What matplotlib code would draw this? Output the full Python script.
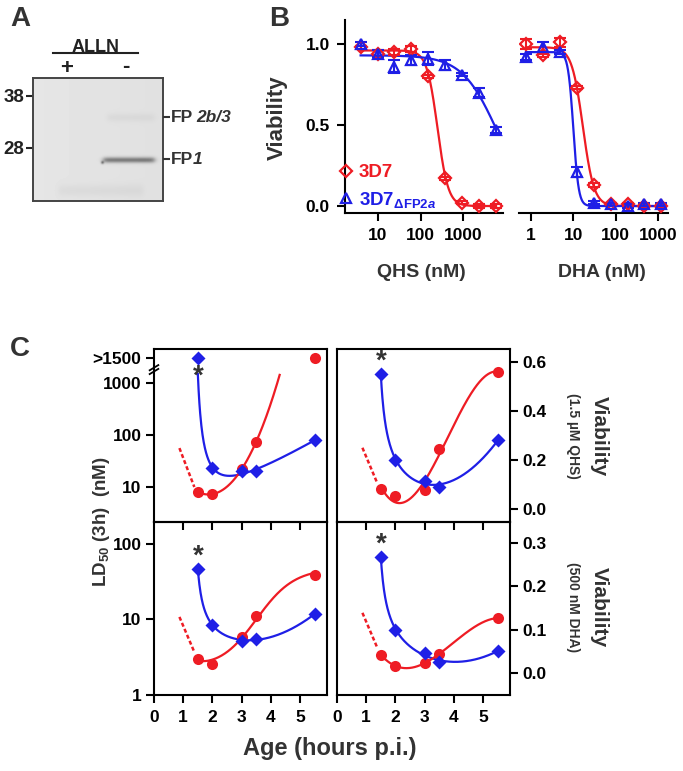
import numpy as np
import matplotlib
matplotlib.use("Agg")
import matplotlib.pyplot as plt
from matplotlib.ticker import NullLocator, FixedLocator
from matplotlib.lines import Line2D

plt.rcParams['font.family'] = ['Liberation Sans', 'DejaVu Sans']
plt.rcParams['font.weight'] = 'bold'
plt.rcParams['mathtext.fontset'] = 'custom'
plt.rcParams['mathtext.rm'] = 'Liberation Sans:bold'
plt.rcParams['mathtext.it'] = 'Liberation Sans:italic:bold'
plt.rcParams['mathtext.bf'] = 'Liberation Sans:bold'

W, H = 683, 771
RED = '#ee1c24'
BLUE = '#1f1fe6'
DARK = '#333333'

# ---------------- data ----------------
# Panel A (western blot)
mw_labels = ['38', '28']
band_prefix = ['FP', 'FP']
band_suffix = ['2b/3', '1']
lane_labels = ['+', '-']

# Panel B dose response
qhs_conc = [3.9, 9.8, 24.4, 61, 153, 381, 954, 2384, 5960]
qhs_3d7 = [0.98, 0.94, 0.95, 0.97, 0.80, 0.17, 0.02, 0.00, 0.00]
qhs_3d7_err = [0.01, 0.02, 0.02, 0.02, 0.01, 0.01, 0.01, 0.01, 0.01]
qhs_ko = [1.00, 0.94, 0.86, 0.90, 0.91, 0.87, 0.81, 0.70, 0.47]
qhs_ko_err = [0.01, 0.02, 0.04, 0.03, 0.04, 0.03, 0.01, 0.03, 0.02]

dha_conc = [0.76, 1.9, 4.8, 12, 30, 76, 191, 477, 1192]
dha_3d7 = [1.00, 0.93, 1.01, 0.73, 0.13, 0.01, 0.01, 0.00, 0.00]
dha_3d7_err = [0.03, 0.01, 0.03, 0.01, 0.01, 0.01, 0.01, 0.01, 0.01]
dha_ko = [0.92, 0.98, 0.95, 0.21, 0.02, 0.01, 0.00, 0.01, 0.01]
dha_ko_err = [0.02, 0.03, 0.01, 0.03, 0.01, 0.01, 0.01, 0.01, 0.01]

# Panel C  (age in hours post invasion)
age = [1.5, 2.0, 3.0, 3.5, 5.5]
GT_LABEL = '>1500'
GT_FIT = 1500.0      # value used for ">1500" in the fitted curve
GT_POS = 3000.0      # where the ">1500" tick sits on the broken log axis
ld50_qhs_ko = [GT_POS, 23, 20, 20, 80]
ld50_qhs_ko_fit = [GT_FIT, 23, 20, 20, 80]
ld50_qhs_3d7 = [8.0, 7.3, 22, 75, GT_POS]
via_qhs_ko = [0.55, 0.20, 0.115, 0.09, 0.28]
via_qhs_3d7 = [0.08, 0.053, 0.078, 0.245, 0.56]
ld50_dha_ko = [47, 8.5, 5.2, 5.5, 11.8]
ld50_dha_3d7 = [3.0, 2.6, 5.9, 11.2, 39]
via_dha_ko = [0.268, 0.10, 0.046, 0.025, 0.051]
via_dha_3d7 = [0.042, 0.016, 0.023, 0.044, 0.127]
# dashed red extrapolation segments (age, value)
dash_age = [0.87, 1.38]
dash_ld50_qhs = [56, 10]
dash_via_qhs = [0.25, 0.105]
dash_ld50_dha = [10.8, 3.7]
dash_via_dha = [0.139, 0.058]


def rect(x0, y0, x1, y1):
    return [x0 / W, 1 - y1 / H, (x1 - x0) / W, (y1 - y0) / H]


def ftext(x, y, s, **kw):
    return fig.text(x / W, 1 - y / H, s, **kw)


fig = plt.figure(figsize=(W / 100, H / 100), dpi=100)

# ---------------- Panel A ----------------
axA = fig.add_axes(rect(33, 78, 163, 201))
bw, bh = 130, 123
yy, xx = np.mgrid[0:bh, 0:bw]
img = np.full((bh, bw), 0.90) - 0.02 * (xx / bw)
bands = [  # (row, col0, col1, sigma, depth)
    (81.5, 70, 121, 2.0, 0.40),
    (39, 74, 121, 3.0, 0.035),
    (112, 25, 110, 4.5, 0.035),
]
for row, c0, c1, sig, depth in bands:
    prof = np.exp(-0.5 * ((yy - row) / sig) ** 2)
    mask = 1 / (1 + np.exp(-(xx - c0) / 1.5)) * 1 / (1 + np.exp((xx - c1) / 1.5))
    img -= depth * prof * mask
img -= 0.35 * np.exp(-(((xx - 69) / 1.6) ** 2 + ((yy - 84) / 1.6) ** 2))
axA.imshow(img, cmap='gray', vmin=0, vmax=1, extent=(0, bw, bh, 0), aspect='auto',
           interpolation='bilinear')
axA.set_xlim(0, bw)
axA.set_ylim(bh, 0)
for s in axA.spines.values():
    s.set_color('#444444')
    s.set_linewidth(1.4)
axA.set_xticks([])
axA.yaxis.set_major_locator(FixedLocator([96 - 78, 148 - 78]))
axA.set_yticklabels(mw_labels, fontsize=13.5, fontweight='bold')
axA.tick_params(axis='y', length=5, width=1.5, pad=1, colors='#222222')
axA2 = axA.twinx()
axA2.set_ylim(bh, 0)
band_rows = [117 - 78, 159 - 78]
axA2.yaxis.set_major_locator(FixedLocator(band_rows))
axA2.set_yticklabels(['', ''])
axA2.tick_params(axis='y', length=5, width=1.5, pad=1, colors='#333333')
for s in axA2.spines.values():
    s.set_visible(False)
for ypix, pre, suf, gap in zip([117, 159], band_prefix, band_suffix, [3, 0]):
    ftext(171, ypix, pre, fontsize=12.5, ha='left', va='center', color='#333333')
    ftext(193 + gap, ypix, suf, fontsize=12.5, ha='left', va='center', color='#333333',
          fontstyle='italic')
ftext(96, 47, 'ALLN', fontsize=13, ha='center', va='center', color='#222222')
fig.add_artist(Line2D([53 / W, 138 / W], [1 - 53 / H, 1 - 53 / H], color='#222222', lw=1.5))
ftext(67, 68, lane_labels[0], fontsize=16, ha='center', va='center', color='#222222')
ftext(126, 66, lane_labels[1], fontsize=16, ha='center', va='center', color='#222222')
ftext(20, 19, 'A', fontsize=20, ha='center', va='center', color=DARK)

# ---------------- Panel B ----------------
def hill_fit(x, y):
    x = np.asarray(x, float)
    y = np.asarray(y, float)
    tops = np.linspace(0.9, 1.05, 16)
    lics = np.linspace(-1, 5, 241)
    hs = np.linspace(0.3, 8, 155)
    T, L, Hh = np.meshgrid(tops, lics, hs, indexing='ij')
    lx = np.log10(x)
    sse = np.zeros_like(T)
    for xi, yi in zip(lx, y):
        pred = T / (1 + 10 ** (Hh * (xi - L)))
        sse += (pred - yi) ** 2
    i = np.unravel_index(np.argmin(sse), sse.shape)
    return T[i], L[i], Hh[i]


def hill(xs, p):
    t, l, h = p
    return t / (1 + 10 ** (h * (np.log10(xs) - l)))


def draw_dose(ax, conc, series):
    for vals, err, col, mk, ms in series:
        p = hill_fit(conc, vals)
        xs = np.logspace(np.log10(conc[0]), np.log10(conc[-1]), 300)
        ax.plot(xs, hill(xs, p), color=col, lw=1.6, zorder=2)
        ax.errorbar(conc, vals, yerr=err, fmt='none', ecolor=col, elinewidth=1.5,
                    capsize=4.5, capthick=1.5, zorder=3)
    handles = []
    for vals, err, col, mk, ms in series:
        h, = ax.plot(conc, vals, linestyle='none', marker=mk, ms=ms, mfc='none',
                     mec=col, mew=1.6, zorder=4)
        handles.append(h)
    return handles


axB1 = fig.add_axes(rect(345, 20, 503, 213))
axB2 = fig.add_axes(rect(519, 20, 668, 213))
hb = draw_dose(axB1, qhs_conc, [(qhs_3d7, qhs_3d7_err, RED, 'D', 6),
                                (qhs_ko, qhs_ko_err, BLUE, '^', 7)])
draw_dose(axB2, dha_conc, [(dha_3d7, dha_3d7_err, RED, 'D', 6),
                           (dha_ko, dha_ko_err, BLUE, '^', 7)])
for ax, lo, hi, ticks in [(axB1, 10 ** 0.224, 10 ** 3.94, [10, 100, 1000]),
                          (axB2, 10 ** -0.284, 10 ** 3.236, [1, 10, 100, 1000])]:
    ax.set_xscale('log')
    ax.set_xlim(lo, hi)
    ax.set_ylim(-0.043, 1.148)
    ax.xaxis.set_major_locator(FixedLocator(ticks))
    ax.xaxis.set_minor_locator(NullLocator())
    ax.set_xticklabels([str(t) for t in ticks], fontsize=12.5)
    ax.spines['top'].set_visible(False)
    ax.spines['right'].set_visible(False)
    for s in ax.spines.values():
        s.set_linewidth(1.5)
    ax.tick_params(length=6, width=1.5, pad=5)
    ax.patch.set_alpha(0)
axB1.set_yticks([0, 0.5, 1.0])
axB1.set_yticklabels(['0.0', '0.5', '1.0'], fontsize=12.5)
axB2.spines['left'].set_visible(False)
axB2.set_yticks([])
ftext(277, 118, 'Viability', fontsize=16, rotation=90, ha='center', va='center', color=DARK)
ftext(421, 272, 'QHS (nM)', fontsize=14, ha='center', va='center', color=DARK)
ftext(602, 272, 'DHA (nM)', fontsize=14, ha='center', va='center', color=DARK)
ftext(279, 19, 'B', fontsize=20, ha='center', va='center', color=DARK)
leg = fig.legend(hb, ['3D7', r'3D7$_{\Delta\mathrm{FP2}\mathit{a}}$'], loc='upper left',
                 bbox_to_anchor=(340 / W, 1 - 164 / H), frameon=False, handlelength=0.6,
                 handletextpad=0.4, fontsize=13.5, labelspacing=0.45, borderaxespad=0,
                 borderpad=0)
for t, c in zip(leg.get_texts(), [RED, BLUE]):
    t.set_color(c)

# ---------------- Panel C ----------------
def lsq_curve(x, y, basis, xs):
    x = np.asarray(x, float)
    A = np.column_stack([f(x) for f in basis])
    coef, *_ = np.linalg.lstsq(A, np.asarray(y, float), rcond=None)
    return sum(c * f(xs) for c, f in zip(coef, basis))


poly3 = [lambda t: np.ones_like(t), lambda t: t, lambda t: t ** 2, lambda t: t ** 3]
hyper = [lambda t: np.ones_like(t), lambda t: t, lambda t: t ** 2, lambda t: 1 / (t - 1.3)]
sigm = [lambda t: np.ones_like(t), lambda t: 1 / (1 + np.exp(-(t - 3.5) / 0.65)),
        lambda t: 1 / (t - 1.1)]

axTL = fig.add_axes(rect(154, 349, 327, 522))
axBL = fig.add_axes(rect(154, 522, 327, 695))
axTR = fig.add_axes(rect(337, 349, 510, 522))
axBR = fig.add_axes(rect(337, 522, 510, 695))
XMAX = 5.92


def panel(ax, ko, ko_fit, wt, wt_range, wt_fit_n, dash, logy, wt_basis=poly3):
    xs_ko = np.linspace(age[0], age[-1], 300)
    xs_wt = np.linspace(wt_range[0], wt_range[1], 300)
    if logy:
        cko = 10 ** lsq_curve(age, np.log10(ko_fit), hyper, xs_ko)
        cwt = 10 ** lsq_curve(age[:wt_fit_n], np.log10(wt[:wt_fit_n]), wt_basis, xs_wt)
    else:
        cko = lsq_curve(age, ko_fit, hyper, xs_ko)
        cwt = lsq_curve(age[:wt_fit_n], wt[:wt_fit_n], wt_basis, xs_wt)
    ax.plot(xs_ko, cko, color=BLUE, lw=1.6, zorder=2)
    ax.plot(xs_wt, cwt, color=RED, lw=1.6, zorder=2)
    ax.plot(dash_age, dash, color=RED, lw=1.8, ls=(0, (1.6, 1.0)), zorder=2)
    ax.plot(age, wt, 'o', color=RED, ms=8, mec='none', zorder=3)
    ax.plot(age, ko, 'D', color=BLUE, ms=7.5, mec='none', zorder=4)
    ax.set_xlim(0, XMAX)
    if logy:
        ax.set_yscale('log')
    for s in ax.spines.values():
        s.set_linewidth(1.5)
    ax.patch.set_alpha(0)
    ax.xaxis.set_major_locator(FixedLocator([0, 1, 2, 3, 4, 5]))
    ax.tick_params(axis='both', length=6, width=1.5, labelsize=12.5, pad=3)
    ax.tick_params(axis='x', direction='out', pad=5)
    ax.yaxis.set_minor_locator(NullLocator())


panel(axTL, ld50_qhs_ko, ld50_qhs_ko_fit, ld50_qhs_3d7, (1.5, 4.3), 4, dash_ld50_qhs, True)
panel(axTR, via_qhs_ko, via_qhs_ko, via_qhs_3d7, (1.5, 5.5), 5, dash_via_qhs, False)
panel(axBL, ld50_dha_ko, ld50_dha_ko, ld50_dha_3d7, (1.5, 5.5), 5, dash_ld50_dha, True,
      wt_basis=sigm)
panel(axBR, via_dha_ko, via_dha_ko, via_dha_3d7, (1.5, 5.5), 5, dash_via_dha, False)

axTL.set_ylim(10 ** 0.327, 10 ** 3.654)
axTL.yaxis.set_major_locator(FixedLocator([10, 100, 1000, GT_POS]))
axTL.set_yticklabels(['10', '100', '1000', GT_LABEL])
axBL.set_ylim(1, 10 ** 2.29)
axBL.yaxis.set_major_locator(FixedLocator([1, 10, 100]))
axBL.set_yticklabels(['1', '10', '100'])
axTR.set_ylim(-0.053, 0.653)
axTR.yaxis.set_major_locator(FixedLocator([0, 0.2, 0.4, 0.6]))
axTR.set_yticklabels(['0.0', '0.2', '0.4', '0.6'])
axBR.set_ylim(-0.051, 0.349)
axBR.yaxis.set_major_locator(FixedLocator([0, 0.1, 0.2, 0.3]))
axBR.set_yticklabels(['0.0', '0.1', '0.2', '0.3'])

for ax in (axTL, axTR):
    ax.tick_params(axis='x', labelbottom=False)
    ax.xaxis.set_major_locator(FixedLocator([1, 2, 3, 4, 5]))
for ax in (axBL, axBR):
    ax.set_xticklabels(['0', '1', '2', '3', '4', '5'])
for ax in (axTR, axBR):
    ax.yaxis.tick_right()
    ax.tick_params(axis='y', left=False, right=True)
for ax in (axTL, axBL):
    ax.tick_params(axis='y', left=True, right=False)

# axis break marks on the top-left LD50 axis
for dy in (0.0, 0.022):
    axTL.plot([-0.025, 0.025], [0.855 + dy, 0.885 + dy], transform=axTL.transAxes,
              color='black', lw=1.3, clip_on=False, zorder=6)

# significance stars
star_kw = dict(fontsize=20, ha='center', va='center', color=DARK, zorder=6,
               textcoords='offset points')
axTL.annotate('*', (age[0], ld50_qhs_ko[0]), xytext=(0, -13), **star_kw)
axTR.annotate('*', (age[0], via_qhs_ko[0]), xytext=(0, 9), **star_kw)
axBL.annotate('*', (age[0], ld50_dha_ko[0]), xytext=(0, 9), **star_kw)
axBR.annotate('*', (age[0], via_dha_ko[0]), xytext=(0, 9), **star_kw)

ftext(102, 522, r'LD$_{50}$ (3h)  (nM)', fontsize=13.5, rotation=90, ha='center',
      va='center', color=DARK)
ftext(330, 749, 'Age (hours p.i.)', fontsize=17, ha='center', va='center', color=DARK)
ftext(599, 436, 'Viability', fontsize=15, rotation=270, ha='center', va='center', color=DARK)
ftext(573, 436, '(1.5 µM QHS)', fontsize=10, rotation=270, ha='center', va='center',
      color=DARK)
ftext(599, 607, 'Viability', fontsize=15, rotation=270, ha='center', va='center', color=DARK)
ftext(573, 607, '(500 nM DHA)', fontsize=10, rotation=270, ha='center', va='center',
      color=DARK)
ftext(20, 349, 'C', fontsize=20, ha='center', va='center', color=DARK)

fig.savefig('out.png', dpi=100)
